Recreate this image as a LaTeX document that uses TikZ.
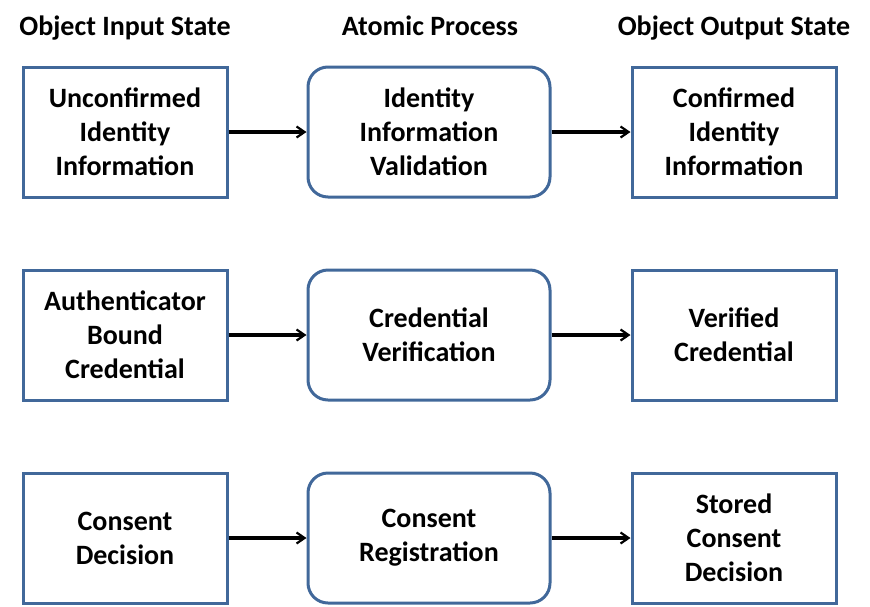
\documentclass[tikz,border=0pt]{standalone}
\usepackage{fontspec}
\setmainfont{Carlito}
\usetikzlibrary{arrows.meta}
\definecolor{boxblue}{HTML}{41689A}
\begin{document}
\begin{tikzpicture}[x=1pt,y=-1pt,
  every node/.style={font=\bfseries\fontsize{28}{34}\selectfont, align=center},
  statebox/.style={draw=boxblue, line width=3pt, minimum width=204pt, minimum height=130pt, inner sep=0pt},
  procbox/.style={statebox, rounded corners=20pt, minimum width=242pt},
  flow/.style={line width=3.2pt, -{Straight Barb[length=8pt,width=11pt,line width=2.2pt]}},
  header/.style={anchor=base}]
\useasboundingbox (0,0) rectangle (870,606);
\node[header] (h1) at (125,35) {Object Input State};
\node[header] (h2) at (430,35) {Atomic Process};
\node[header] (h3) at (734,35) {Object Output State};

\node[statebox] (a1) at (125,132) {Unconfirmed\\Identity\\Information};
\node[procbox]  (b1) at (429,132) {Identity\\Information\\Validation};
\node[statebox] (c1) at (734,132) {Confirmed\\Identity\\Information};

\node[statebox] (a2) at (125,335) {Authenticator\\Bound\\Credential};
\node[procbox]  (b2) at (429,335) {Credential\\Verification};
\node[statebox] (c2) at (734,335) {Verified\\Credential};

\node[statebox] (a3) at (125,538) {Consent\\Decision};
\node[procbox]  (b3) at (429,538) {Consent\\Registration};
\node[statebox] (c3) at (734,538) {Stored\\Consent\\Decision};

\draw[flow] (a1) -- (b1);
\draw[flow] (b1) -- (c1);
\draw[flow] (a2) -- (b2);
\draw[flow] (b2) -- (c2);
\draw[flow] (a3) -- (b3);
\draw[flow] (b3) -- (c3);
\end{tikzpicture}
\end{document}
